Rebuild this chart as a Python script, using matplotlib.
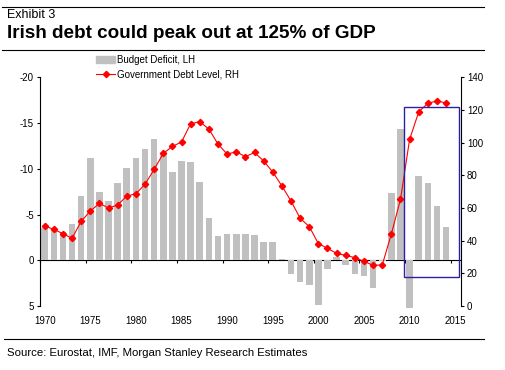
import numpy as np
import matplotlib
matplotlib.use('Agg')
import matplotlib.pyplot as plt
from matplotlib.lines import Line2D
from matplotlib.patches import Patch, Rectangle

plt.rcParams['font.family'] = ['Liberation Sans', 'DejaVu Sans']

# Datos
years = np.arange(1970, 2016)
deficit = [-3.5, -3.4, -3.1, -4.0, -7.0, -11.2, -7.5, -6.5, -8.5, -10.1,
           -11.2, -12.2, -13.3, -11.6, -9.6, -10.9, -10.7, -8.6, -4.6, -2.6,
           -2.9, -2.9, -2.9, -2.8, -2.0, -2.0, -0.1, 1.5, 2.4, 2.7,
           4.9, 1.0, -0.35, 0.5, 1.5, 1.7, 3.0, 0.1, -7.3, -14.3,
           5.2, -9.2, -8.4, -5.9, -3.6, np.nan]
debt = [49.0, 46.9, 44.3, 41.4, 51.8, 58.1, 62.8, 60.0, 61.8, 67.3,
        68.7, 74.5, 83.6, 93.4, 97.7, 100.4, 111.6, 112.8, 108.3, 99.1,
        93.0, 94.4, 91.4, 94.0, 88.8, 82.0, 73.5, 64.3, 53.7, 48.6,
        38.2, 35.3, 32.2, 31.0, 29.6, 27.3, 24.9, 25.1, 44.1, 65.3,
        102.0, 118.8, 124.1, 125.5, 124.3, np.nan]
label_years = np.arange(1970, 2016, 5)
left_ticks = [-20, -15, -10, -5, 0, 5]
right_ticks = np.arange(0, 141, 20)
# recuadro de proyeccion (anios, nivel de deuda)
box_years = [2009.4, 2015.4]
box_debt = [18, 122]

fig = plt.figure(figsize=(5.06, 3.70), dpi=100)
ax = fig.add_axes([40.1/506, 1-306/370, (460.7-40.1)/506, (306-77.3)/370])
ax2 = ax.twinx()

ax.bar(years, deficit, width=0.72, color='#C0C0C0', zorder=2, clip_on=False)
ax.set_ylim(5, -20)
ax.set_xlim(1969.5, 2015.6)
ax.set_yticks(left_ticks)
ax.set_yticklabels([str(t) for t in left_ticks])
ax.set_xticks(label_years)
ax.set_xticklabels([str(y) for y in label_years])
ax.tick_params(axis='x', length=0, pad=7, labelsize=7)
ax.tick_params(axis='y', direction='out', length=2.5, width=0.8, pad=2, labelsize=7)
for s in ['top', 'bottom', 'right']:
    ax.spines[s].set_visible(False)
ax.spines['left'].set_linewidth(0.8)

# eje en cero con marcas entre categorias
sec = ax.secondary_xaxis(0.2)
sec.set_xticks(label_years - 0.5)
sec.tick_params(direction='out', length=2.5, width=0.8, labelbottom=False)
sec.spines['bottom'].set_linewidth(0.8)

ax2.plot(years, debt, color='#FF0000', lw=0.8, marker='D', ms=3.2, zorder=4)
ax2.set_ylim(0, 140)
ax2.set_yticks(right_ticks)
ax2.tick_params(axis='y', direction='out', length=2.5, width=0.8, pad=2, labelsize=7)
for s in ['top', 'bottom', 'left']:
    ax2.spines[s].set_visible(False)
ax2.spines['right'].set_linewidth(0.8)
ax2.add_patch(Rectangle((box_years[0], box_debt[0]), box_years[1]-box_years[0],
                        box_debt[1]-box_debt[0], fill=False, ec='#2B1FA8', lw=1.0, zorder=5))

handles = [Patch(color='#C0C0C0'),
           Line2D([], [], color='#FF0000', lw=0.8, marker='D', ms=3.2)]
fig.legend(handles, ['Budget Deficit, LH', 'Government Debt Level, RH'],
           loc='upper left', bbox_to_anchor=(96/506, 1-55/370), frameon=False,
           fontsize=7, handlelength=2.0, handletextpad=0.2, labelspacing=0.5,
           borderpad=0, borderaxespad=0)

# titulos y lineas
fig.add_artist(Line2D([2/506, 484/506], [1-7/370, 1-7/370], color='black', lw=0.8))
fig.add_artist(Line2D([2/506, 484/506], [1-50/370, 1-50/370], color='black', lw=0.8))
fig.add_artist(Line2D([4/506, 484/506], [1-339/370, 1-339/370], color='black', lw=0.8))
fig.text(7/506, 1-15.5/370, 'Exhibit 3', fontsize=9, va='center', ha='left')
fig.text(7/506, 1-34/370, 'Irish debt could peak out at 125% of GDP', fontsize=13.6,
         fontweight='bold', va='center', ha='left')
fig.text(7/506, 1-353/370, 'Source: Eurostat, IMF, Morgan Stanley Research Estimates',
         fontsize=8.2, va='center', ha='left')

fig.savefig('out.png', dpi=100)
